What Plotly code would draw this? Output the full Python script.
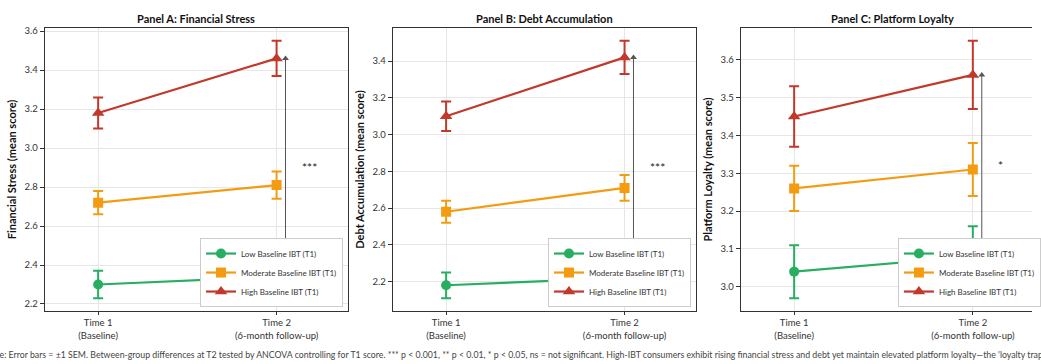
import plotly.graph_objects as go

# ---------------- data ----------------
times = ["Time 1<br>(Baseline)", "Time 2<br>(6-month follow-up)"]
groups = ["Low Baseline IBT (T1)", "Moderate Baseline IBT (T1)", "High Baseline IBT (T1)"]
panel_titles = ["Panel A: Financial Stress", "Panel B: Debt Accumulation", "Panel C: Platform Loyalty"]
y_titles = ["Financial Stress (mean score)", "Debt Accumulation (mean score)", "Platform Loyalty (mean score)"]
significance = ["***", "***", "*"]

stress_low = [2.30, 2.34]
stress_mod = [2.72, 2.81]
stress_high = [3.18, 3.46]
stress_low_sem = [0.07, 0.08]
stress_mod_sem = [0.06, 0.07]
stress_high_sem = [0.08, 0.09]

debt_low = [2.18, 2.22]
debt_mod = [2.58, 2.71]
debt_high = [3.10, 3.42]
debt_low_sem = [0.07, 0.08]
debt_mod_sem = [0.06, 0.07]
debt_high_sem = [0.08, 0.09]

loyal_low = [3.04, 3.08]
loyal_mod = [3.26, 3.31]
loyal_high = [3.45, 3.56]
loyal_low_sem = [0.07, 0.08]
loyal_mod_sem = [0.06, 0.07]
loyal_high_sem = [0.08, 0.09]

note = ("Note: Error bars = \u00b11 SEM. Between-group differences at T2 tested by ANCOVA controlling for T1 score. "
        "*** p < 0.001, ** p < 0.01, * p < 0.05, ns = not significant. High-IBT consumers exhibit rising financial "
        "stress and debt yet maintain elevated platform loyalty\u2014the 'loyalty trap'.")

panels = [
    ([stress_low, stress_mod, stress_high], [stress_low_sem, stress_mod_sem, stress_high_sem]),
    ([debt_low, debt_mod, debt_high], [debt_low_sem, debt_mod_sem, debt_high_sem]),
    ([loyal_low, loyal_mod, loyal_high], [loyal_low_sem, loyal_mod_sem, loyal_high_sem]),
]

# ---------------- style ----------------
colors = ["#27ae60", "#f39c12", "#c0392b"]
symbols = ["circle", "square", "triangle-up"]
W, H = 1041, 364
FONT = "Lato"
x_pos = list(range(len(times)))
domains = [(45 / W, 351 / W), (396 / W, 702 / W), (747 / W, 1.0)]
x_ranges = [[-0.3, 1.4], [-0.3, 1.4], [-0.3, (1041 - 801) / 180.3]]
dticks = [0.2, 0.2, 0.1]
legend_x = [346 / W, 697 / W, 1050 / W]
arrow_x = 1.05

fig = go.Figure()
layout = {}
annotations = []

for p, (vals, sems) in enumerate(panels):
    sfx = "" if p == 0 else str(p + 1)
    leg = "legend" + sfx
    for g in range(3):
        fig.add_trace(go.Scatter(
            x=x_pos, y=vals[g], name=groups[g],
            mode="lines+markers",
            line=dict(color=colors[g], width=2.2),
            marker=dict(symbol=symbols[g], size=10 if g != 2 else 11, color=colors[g]),
            error_y=dict(type="data", array=sems[g], color=colors[g], thickness=2, width=5),
            xaxis="x" + sfx, yaxis="y" + sfx, legend=leg,
        ))
    # double-headed bracket between low and high group at T2 (below the legend)
    fig.add_trace(go.Scatter(
        x=[arrow_x, arrow_x], y=[vals[0][1], vals[2][1]],
        mode="lines+markers", line=dict(color="#555555", width=1),
        marker=dict(symbol=["triangle-down", "triangle-up"], size=6, color="#555555"),
        showlegend=False, hoverinfo="skip", xaxis="x" + sfx, yaxis="y" + sfx,
    ))
    lo = min(v - s for vv, ss in zip(vals, sems) for v, s in zip(vv, ss))
    hi = max(v + s for vv, ss in zip(vals, sems) for v, s in zip(vv, ss))
    pad = 0.05 * (hi - lo)
    layout["xaxis" + sfx] = dict(
        domain=list(domains[p]), range=x_ranges[p], anchor="y" + sfx,
        tickvals=x_pos, ticktext=times, showgrid=True, gridcolor="#e6e6e6", gridwidth=1,
        showline=True, mirror=True, linecolor="#333333", linewidth=1,
        ticks="outside", ticklen=3, tickcolor="#333333",
        tickfont=dict(family=FONT, size=9.5, color="#333333"), zeroline=False,
    )
    layout["yaxis" + sfx] = dict(
        domain=[0, 1], range=[lo - pad, hi + pad], anchor="x" + sfx,
        dtick=dticks[p], tickformat=".1f", showgrid=True, gridcolor="#e6e6e6", gridwidth=1,
        showline=True, mirror=(p < 2), linecolor="#333333", linewidth=1,
        ticks="outside", ticklen=4, tickcolor="#333333",
        tickfont=dict(family=FONT, size=9.5, color="#333333"), zeroline=False,
        title=dict(text="<b>" + y_titles[p] + "</b>", font=dict(family=FONT, size=11, color="#111111"), standoff=5),
    )
    layout[leg] = dict(
        x=legend_x[p], y=0.014, xanchor="right", yanchor="bottom", xref="paper", yref="paper",
        bgcolor="white", bordercolor="#cccccc", borderwidth=1,
        font=dict(family=FONT, size=8, color="#333333"), itemwidth=30, tracegroupgap=0,
    )
    # title
    annotations.append(dict(
        text="<b>" + panel_titles[p] + "</b>", xref="x" + sfx, yref="paper",
        x=0.55, y=1.0, yanchor="bottom", yshift=1, showarrow=False,
        font=dict(family=FONT, size=11, color="#111111"),
    ))
    annotations.append(dict(
        x=1.13, y=(vals[0][1] + vals[2][1]) / 2, xref="x" + sfx, yref="y" + sfx,
        text=significance[p], showarrow=False, xanchor="left", yanchor="middle",
        font=dict(family=FONT, size=12, color="#222222"),
    ))

annotations.append(dict(
    text=note, xref="paper", yref="paper", x=0.4995, y=-0.152, xanchor="center", yanchor="middle",
    showarrow=False, font=dict(family=FONT, size=8.75, color="#444444"),
))

fig.update_layout(
    **layout,
    annotations=annotations,
    width=W, height=H,
    margin=dict(l=0, r=0, t=28, b=53),
    paper_bgcolor="white", plot_bgcolor="white",
    font=dict(family=FONT, color="#333333"),
    showlegend=True,
)

fig.write_html(
    "out.html",
    config={"displayModeBar": False},
    post_script="document.body.style.margin='0';document.body.style.overflow='hidden';",
)
